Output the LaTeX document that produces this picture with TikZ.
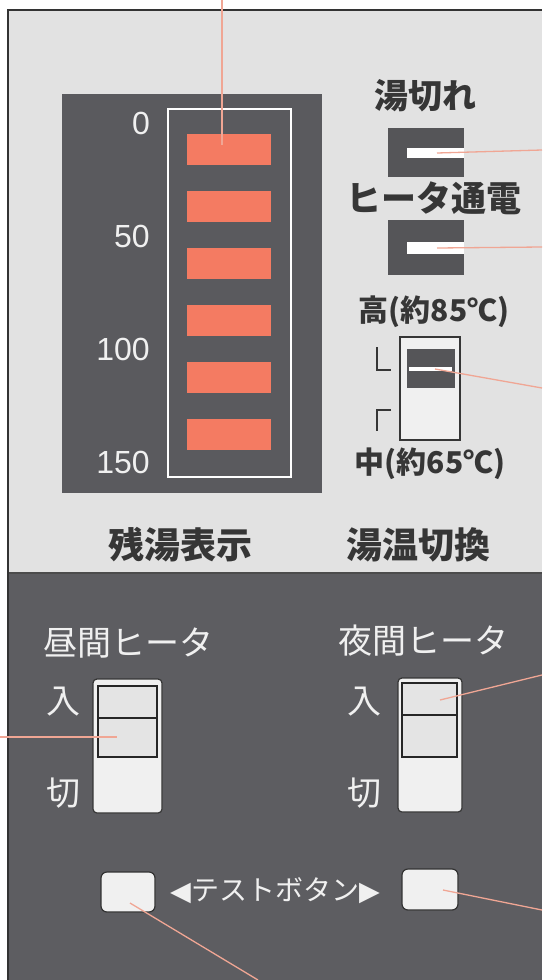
\documentclass[tikz,border=0pt]{standalone}
\usepackage{fontspec}
\newfontfamily\jp{Noto Sans CJK JP}
\newfontfamily\num{Liberation Sans}
\newfontfamily\tri{DejaVu Sans}
\definecolor{panel}{HTML}{E2E2E2}
\definecolor{darkp}{HTML}{5D5D61}
\definecolor{boxc}{HTML}{5A5A5E}
\definecolor{barc}{HTML}{F47B62}
\definecolor{leadc}{HTML}{F0A694}
\definecolor{labc}{HTML}{363636}
\definecolor{indc}{HTML}{555558}
\definecolor{swc}{HTML}{F0F0F0}
\tikzset{
  lead/.style={draw=leadc, line width=1.3pt},
  blbl/.style={font=\jp\bfseries\fontsize{34}{34}\selectfont, text=labc, inner sep=0pt},
  slbl/.style={font=\jp\bfseries\fontsize{30}{30}\selectfont, text=labc, inner sep=0pt},
  wlbl/.style={font=\jp\fontsize{34}{34}\selectfont, text=swc, inner sep=0pt},
  numlbl/.style={font=\num\fontsize{32}{32}\selectfont, text=swc, inner sep=0pt, anchor=east},
  bar/.style={fill=barc, draw=none},
  ind/.style={fill=indc, draw=none},
  slot/.style={fill=white, draw=none},
  swout/.style={fill=swc, draw=labc, line width=1.2pt, rounded corners=4pt},
  swin/.style={fill=swc!95!black, draw=black!85, line width=2.4pt},
  btn/.style={fill=swc, draw=black!80, line width=1.2pt, rounded corners=6pt},
}
\begin{document}
\begin{tikzpicture}[x=1pt,y=-1pt]
\useasboundingbox (0,0) rectangle (542,980);
\fill[white] (0,0) rectangle (542,980);
% panels
\fill[panel] (8,10) rectangle (542,573);
\draw[black!80, line width=1.5pt] (8,980) -- (8,10) -- (542,10);
\fill[darkp] (9,573) rectangle (542,980);
\draw[black!70, line width=1.2pt] (9,573) -- (542,573);
% level display
\fill[boxc] (62,94) rectangle (322,493);
\draw[white, line width=1.1pt] (168,109) rectangle (291,477);
\foreach \i in {1,...,6}{
  \path[bar] (187,{134+57*(\i-1)}) rectangle (271,{165+57*(\i-1)});
  \coordinate (bar\i) at (229,{149.5+57*(\i-1)});
}
\node[numlbl] (n0) at (150,123) {0};
\node[numlbl] (n50) at (150,236) {50};
\node[numlbl] (n100) at (150,349) {100};
\node[numlbl] (n150) at (150,462) {150};
\coordinate (topend) at (222,0);
\coordinate (bar1tip) at (222,145);
\draw[lead] (topend) -- (bar1tip);
% indicators
\node[blbl] (yugire) at (425,96) {湯切れ};
\path[ind] (388,128) rectangle (464,177);
\path[slot] (407,148) rectangle (464,158);
\coordinate (ind1) at (437,153);
\node[blbl, font=\jp\bfseries\fontsize{35}{35}\selectfont] (heater) at (434,198) {ヒータ通電};
\path[ind] (388,220) rectangle (464,275);
\path[slot] (407,242) rectangle (464,254);
\coordinate (ind2) at (437,248);
\coordinate (e1) at (542,150);
\coordinate (e2) at (542,247);
\draw[lead] (ind1) -- (e1);
\draw[lead] (ind2) -- (e2);
% temperature switch
\node[slbl] (high) at (434,312) {高(約85℃)};
\draw[fill=swc, draw=labc, line width=2.4pt] (400,337) rectangle (460,440);
\path[ind] (407,349) rectangle (455,388);
\fill[white] (409,366.5) rectangle (452,371);
\coordinate (sw1) at (435,369);
\draw[labc, line width=2pt] (377,347) -- (377,370) -- (391,370);
\draw[labc, line width=2pt] (391,410) -- (377,410) -- (377,431);
\node[slbl] (mid) at (430,464) {中(約65℃)};
\coordinate (e3) at (542,388);
\draw[lead] (sw1) -- (e3);
% bottom labels of upper panel
\node[blbl, font=\jp\bfseries\fontsize{36}{36}\selectfont] (zanyu) at (180,545) {残湯表示};
\node[blbl, font=\jp\bfseries\fontsize{36}{36}\selectfont] (yuon) at (418,545) {湯温切換};
% day heater
\node[wlbl] (day) at (128,643) {昼間ヒータ};
\node[wlbl] (dayin) at (63,702) {入};
\node[wlbl] (dayoff) at (63,793) {切};
\path[swout] (93,679) rectangle (162,813);
\path[swin] (98,686) rectangle (157,757);
\draw[black!85, line width=2.4pt] (98,718) -- (157,718);
\coordinate (daysw) at (117,737);
\coordinate (e4) at (0,737);
\draw[lead] (e4) -- (daysw);
% night heater
\node[wlbl] (night) at (423,641) {夜間ヒータ};
\node[wlbl] (nightin) at (364,702) {入};
\node[wlbl] (nightoff) at (364,793) {切};
\path[swout] (398,678) rectangle (462,812);
\path[swin] (402,683) rectangle (457,757);
\draw[black!85, line width=2.4pt] (402,715) -- (457,715);
\coordinate (nightsw) at (440,700);
\coordinate (e5) at (542,675);
\draw[lead] (nightsw) -- (e5);
% test buttons
\path[btn] (101,872) rectangle (155,912);
\path[btn] (402,869) rectangle (458,910);
\node[wlbl, font=\jp\fontsize{28}{28}\selectfont] (test) at (275,891) {{\tri\fontsize{27}{27}\selectfont ◀}テストボタン{\tri\fontsize{27}{27}\selectfont ▶}};
\coordinate (btnl) at (130,903);
\coordinate (btnr) at (443,890);
\coordinate (e6) at (258,980);
\coordinate (e7) at (542,910);
\draw[lead] (btnl) -- (e6);
\draw[lead] (btnr) -- (e7);
\end{tikzpicture}
\end{document}
